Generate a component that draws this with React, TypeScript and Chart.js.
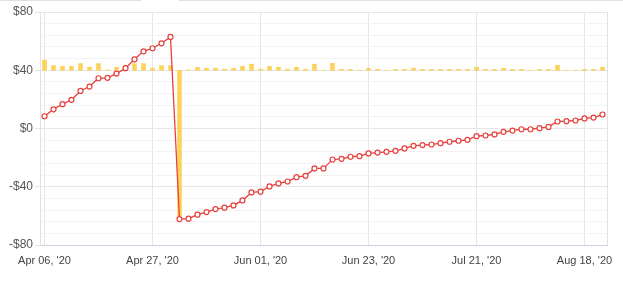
import React, { useEffect, useRef } from "react";
import { Chart, registerables } from "chart.js";

Chart.register(...registerables);

const dateLabels: string[] = [
  "Apr 06, '20", "", "", "", "", "", "", "", "", "", "", "",
  "Apr 27, '20", "", "", "", "", "", "", "", "", "", "", "",
  "Jun 01, '20", "", "", "", "", "", "", "", "", "", "", "",
  "Jun 23, '20", "", "", "", "", "", "", "", "", "", "", "",
  "Jul 21, '20", "", "", "", "", "", "", "", "", "", "", "",
  "Aug 18, '20", "", "",
];

const cumulativePnl: number[] = [
  8.4, 13.2, 16.7, 19.7, 25.8, 28.8, 34.5, 34.8, 37.7, 41.4, 47.5, 53.0,
  55.1, 58.5, 62.9, -62.2, -61.9, -59.2, -57.4, -55.3, -54.4, -52.8, -49.4, -43.9,
  -43.4, -39.8, -37.7, -36.4, -33.4, -32.5, -27.4, -27.4, -21.3, -20.8, -19.4, -19.0,
  -17.1, -16.5, -16.0, -15.3, -13.7, -11.9, -11.4, -11.0, -10.1, -9.1, -8.4, -7.8,
  -5.3, -4.8, -4.1, -2.3, -1.4, -0.5, -0.5, 0.2, 1.1, 4.8, 5.0, 5.5,
  6.9, 7.5, 9.6,
];

const dailyPnl: number[] = [
  8.6, 4.0, 3.4, 3.4, 5.7, 2.6, 5.7, 0.3, 2.6, 3.7, 5.7, 5.7,
  1.7, 4.0, 4.0, -125, 0.3, 2.6, 1.7, 1.7, 0.9, 1.7, 3.4, 5.2,
  0.9, 3.4, 2.6, 0.9, 2.6, 0.9, 5.2, 0, 6.0, 0.8, 0.8, 0,
  1.7, 0.8, 0, 0.8, 0.8, 1.7, 0.8, 0.8, 0.8, 0.8, 0.8, 0.8,
  2.6, 0.8, 0.8, 1.7, 0.8, 0.8, 0, 0.8, 0.8, 4.3, 0, 0,
  0.8, 0.8, 2.6,
];

const yTickValues: number[] = [80, 40, 0, -40, -80];

const FONT = "'Liberation Sans', Arial, Helvetica, sans-serif";

export default function App() {
  const canvasRef = useRef<HTMLCanvasElement | null>(null);

  useEffect(() => {
    if (!canvasRef.current) return;
    const rightBorder = {
      id: "rightBorder",
      afterDraw(chart: any) {
        const { ctx, chartArea } = chart;
        ctx.save();
        ctx.strokeStyle = "#e2e2e2";
        ctx.lineWidth = 1;
        ctx.beginPath();
        ctx.moveTo(Math.round(chartArea.right) + 0.5, chartArea.top);
        ctx.lineTo(Math.round(chartArea.right) + 0.5, chartArea.bottom);
        ctx.stroke();
        ctx.restore();
      },
    };
    const chart = new Chart(canvasRef.current, {
      type: "bar",
      data: {
        labels: dateLabels,
        datasets: [
          {
            type: "line",
            label: "Cumulative",
            data: cumulativePnl,
            yAxisID: "y",
            borderColor: "#e8403c",
            borderWidth: 1.3,
            backgroundColor: "#ffffff",
            pointBackgroundColor: "#ffffff",
            pointBorderColor: "#e8403c",
            pointBorderWidth: 1.2,
            pointRadius: 2.5,
            tension: 0,
            order: 0,
          } as any,
          {
            type: "bar",
            label: "Daily",
            data: dailyPnl,
            yAxisID: "y2",
            backgroundColor: "rgba(251, 198, 45, 0.78)",
            borderWidth: 0,
            barThickness: 4,
            order: 1,
          } as any,
        ],
      },
      options: {
        animation: false,
        responsive: true,
        maintainAspectRatio: false,
        layout: { padding: { top: 12, right: 16, left: 0, bottom: 0 } },
        plugins: { legend: { display: false }, tooltip: { enabled: false } },
        scales: {
          x: {
            offset: true,
            grid: {
              offset: false,
              drawTicks: false,
              color: (c: any) => (c.index % 12 === 0 ? "#e6e6e6" : "rgba(0,0,0,0)"),
            },
            border: { color: "#c9d1e3" },
            ticks: {
              autoSkip: false,
              maxRotation: 0,
              minRotation: 0,
              padding: 9,
              color: "#444",
              font: { family: FONT, size: 11 },
              callback: (_v: any, i: number) => dateLabels[i],
            },
            afterFit: (s: any) => {
              s.height = 41;
            },
          },
          y: {
            min: -80,
            max: 80,
            position: "left",
            grid: {
              color: (c: any) =>
                c.tick && yTickValues.includes(c.tick.value) ? "#e6e6e6" : "#f3f3f3",
              tickColor: (c: any) =>
                c.tick && yTickValues.includes(c.tick.value) ? "#e6e6e6" : "rgba(0,0,0,0)",
              tickLength: 5,
            },
            border: { color: "#e2e2e2" },
            ticks: {
              stepSize: 8,
              autoSkip: false,
              padding: 2,
              color: "#555",
              font: { family: FONT, size: 12 },
              callback: (v: any) => {
                const n = Number(v);
                if (!yTickValues.includes(n)) return "";
                return n < 0 ? "-$" + Math.abs(n) : "$" + n;
              },
            },
            afterFit: (s: any) => {
              s.width = 40;
            },
          },
          y2: {
            display: false,
            min: -150,
            max: 50,
          },
        },
      },
      plugins: [rightBorder],
    });
    return () => chart.destroy();
  }, []);

  return (
    <div style={{ position: "absolute", left: 0, top: 0, width: 623, height: 286, background: "#fff" }}>
      <div style={{ position: "absolute", left: 0, top: 0, width: 141, height: 1, background: "#e0e0e0" }} />
      <div style={{ position: "absolute", left: 179, top: 0, width: 444, height: 1, background: "#e0e0e0" }} />
      <canvas ref={canvasRef} />
    </div>
  );
}
